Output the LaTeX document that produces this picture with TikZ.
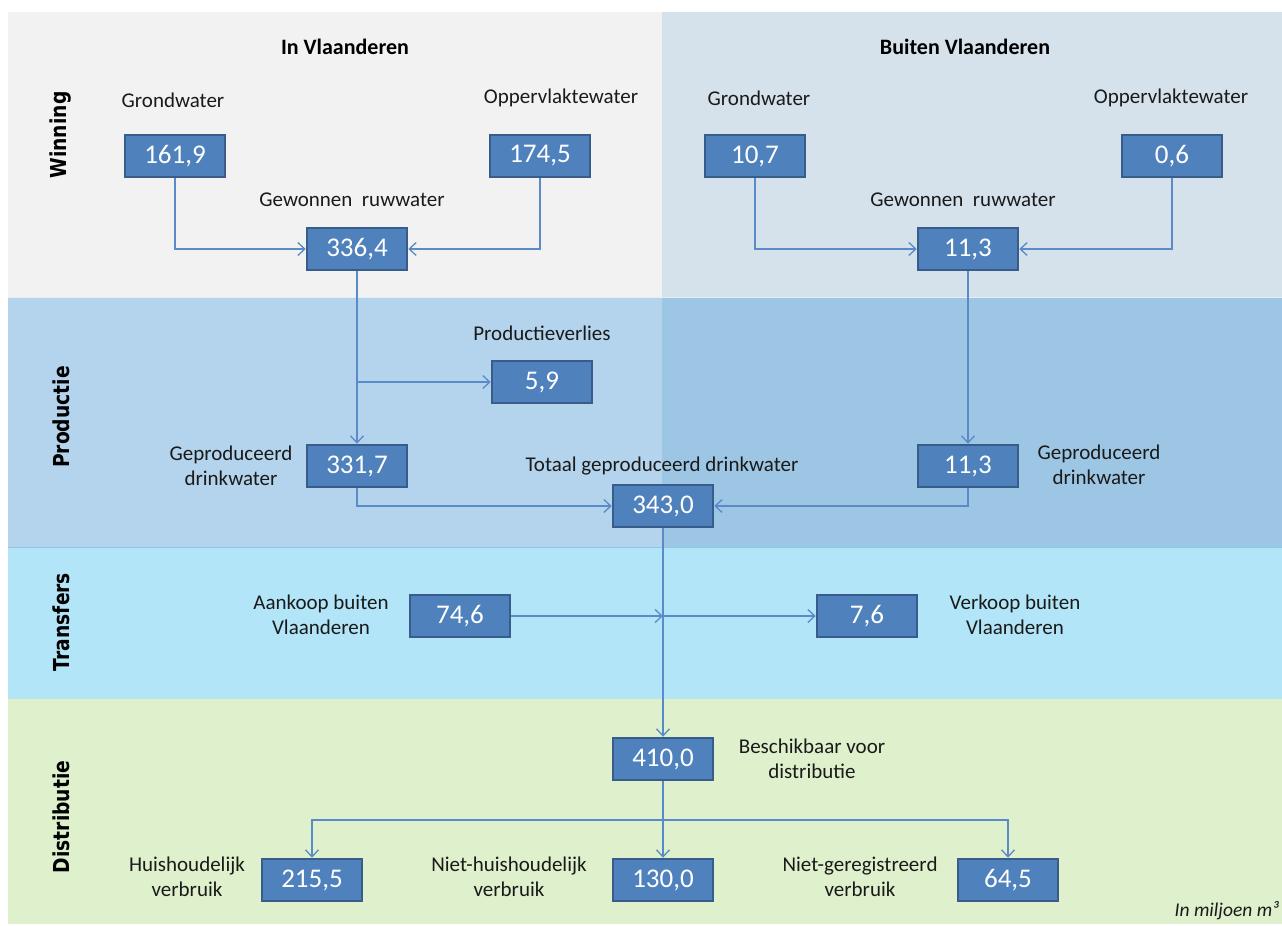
\documentclass[tikz,border=0pt]{standalone}
\usepackage{fontspec}
\setmainfont{Carlito}
\newfontfamily\sidefont{DejaVu Sans}[FakeStretch=0.85]
\usetikzlibrary{arrows.meta}
\definecolor{winL}{HTML}{F2F2F2}
\definecolor{winR}{HTML}{D5E1EB}
\definecolor{prodL}{HTML}{B3D4EC}
\definecolor{prodR}{HTML}{9DC6E4}
\definecolor{transC}{HTML}{B1E5F7}
\definecolor{distC}{HTML}{DFF0CC}
\definecolor{boxfill}{HTML}{4F81BD}
\definecolor{boxline}{HTML}{385D8A}
\definecolor{conn}{HTML}{5A8BC8}
\definecolor{txt}{HTML}{1A1A1A}
\definecolor{edgeA}{HTML}{E4EEF6}
\definecolor{edgeB}{HTML}{8CC8EA}
\definecolor{edgeC}{HTML}{BEE4E1}
\begin{document}
\begin{tikzpicture}[x=1pt,y=-1pt,
  valbox/.style={draw=boxline, line width=2.5pt, fill=boxfill, minimum width=100pt, minimum height=42pt, inner sep=0pt, text=white, font=\fontsize{27}{30}\selectfont},
  lbl/.style={align=center, inner sep=0pt, text=txt, font=\fontsize{21}{25}\selectfont},
  head/.style={inner sep=0pt, text=black, font=\bfseries\fontsize{22}{26}\selectfont},
  side/.style={rotate=90, inner sep=0pt, text=black, font=\sidefont\bfseries\fontsize{22}{26}\selectfont},
  arr/.style={draw=conn, line width=1.3pt, -{Straight Barb[length=7pt,width=13pt,line width=1.3pt]}},
  plain/.style={draw=conn, line width=1.3pt},
  wide/.style={line width=2pt}
]
\useasboundingbox (0,0) rectangle (1282,926);
\fill[white] (0,0) rectangle (1282,926);
% bands
\fill[winL] (8,12) rectangle (662,297);
\fill[winR] (662,12) rectangle (1282,297);
\fill[prodL] (8,297) rectangle (662,547);
\fill[prodR] (662,297) rectangle (1282,547);
\fill[transC] (8,547) rectangle (1282,698);
\fill[distC] (8,698) rectangle (1282,924);
\draw[edgeA, line width=1.5pt] (8,297.5) -- (1282,297.5);
\draw[edgeB, line width=1.2pt] (8,547.5) -- (1282,547.5);
\draw[edgeC, line width=1pt] (8,698.5) -- (1282,698.5);

% side labels
\node[side] (sWin) at (61,135) {Winning};
\node[side] (sProd) at (61,417) {Productie};
\node[side] (sTrans) at (61,622) {Transfers};
\node[side] (sDist) at (61,817) {Distributie};

% headings
\node[head] (hIn) at (345,47) {In Vlaanderen};
\node[head] (hOut) at (965,47) {Buiten Vlaanderen};

% value boxes
\node[valbox] (b1) at (175,156) {161,9};
\node[valbox] (b2) at (540,156) {174,5};
\node[valbox] (b3) at (357,249) {336,4};
\node[valbox] (b4) at (755,156) {10,7};
\node[valbox] (b5) at (1172,156) {0,6};
\node[valbox] (b6) at (968,249) {11,3};
\node[valbox] (b7) at (542,382) {5,9};
\node[valbox] (b8) at (357,466) {331,7};
\node[valbox] (b9) at (968,466) {11,3};
\node[valbox] (b10) at (663,506) {343,0};
\node[valbox] (b11) at (460,616) {74,6};
\node[valbox] (b12) at (867,616) {7,6};
\node[valbox] (b13) at (663,759) {410,0};
\node[valbox] (b14) at (312,880) {215,5};
\node[valbox] (b15) at (663,880) {130,0};
\node[valbox] (b16) at (1008,880) {64,5};

% labels
\node[lbl] (l1) at (173,100) {Grondwater};
\node[lbl] (l2) at (561,98) {Oppervlaktewater};
\node[lbl] (l3) at (759,98) {Grondwater};
\node[lbl] (l4) at (1171,98) {Oppervlaktewater};
\node[lbl] (l5) at (352,200) {Gewonnen\ \ ruwwater};
\node[lbl] (l6) at (963,200) {Gewonnen\ \ ruwwater};
\node[lbl] (l7) at (542,333) {Productieverlies};
\node[lbl] (l8) at (231,466) {Geproduceerd\\drinkwater};
\node[lbl] (l9) at (1099,465) {Geproduceerd\\drinkwater};
\node[lbl] (l10) at (662,466) {Totaal geproduceerd drinkwater};
\node[lbl] (l11) at (321,615) {Aankoop buiten\\Vlaanderen};
\node[lbl] (l12) at (1015,615) {Verkoop buiten\\Vlaanderen};
\node[lbl] (l13) at (812,759) {Beschikbaar voor\\distributie};
\node[lbl] (l14) at (187,877) {Huishoudelijk\\verbruik};
\node[lbl] (l15) at (509,877) {Niet-huishoudelijk\\verbruik};
\node[lbl] (l16) at (860,877) {Niet-geregistreerd\\verbruik};
\node[lbl, anchor=east, font=\itshape\fontsize{19.5}{22}\selectfont] (unit) at (1279,911) {In miljoen m³};

% connectors
\draw[arr] (b1.south) |- (b3.west);
\draw[arr] (b2.south) |- (b3.east);
\draw[arr] (b4.south) |- (b6.west);
\draw[arr] (b5.south) |- (b6.east);
\draw[arr] (b3.south) -- (b8.north);
\coordinate (br) at (b3.south |- b7.west);
\draw[arr] (br) -- (b7.west);
\draw[arr] (b6.south) -- (b9.north);
\draw[arr] (b8.south) |- (b10.west);
\draw[arr] (b9.south) |- (b10.east);
\draw[arr] (b10.south) -- (b13.north);
\coordinate (tj) at (b10.south |- b11.east);
\draw[arr, wide] (b11.east) -- (tj);
\draw[arr, wide] (tj) -- (b12.west);
\coordinate (dj) at (663,820);
\draw[plain] (b13.south) -- (dj);
\draw[arr] (dj) -| (b14.north);
\draw[arr] (dj) -- (b15.north);
\draw[arr] (dj) -| (b16.north);
\end{tikzpicture}
\end{document}
